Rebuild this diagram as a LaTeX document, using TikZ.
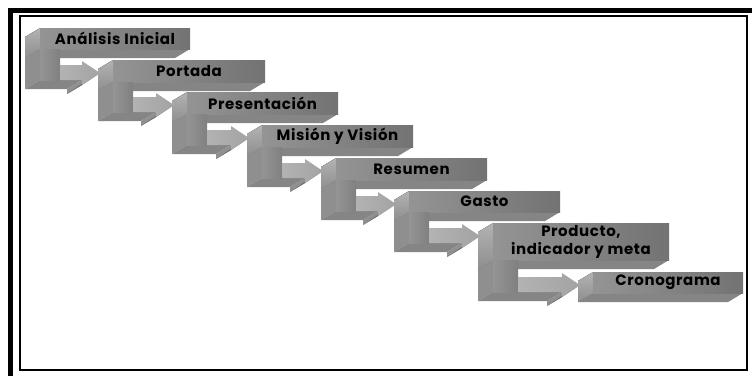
\documentclass[tikz,border=0pt]{standalone}
\usepackage{fontspec}
\setmainfont{Poppins}
\definecolor{gA}{gray}{0.58}
\definecolor{gB}{gray}{0.82}
\definecolor{gC}{gray}{0.45}
\definecolor{gL1}{gray}{0.70}
\definecolor{gL2}{gray}{0.56}
\definecolor{gBot}{gray}{0.52}
\definecolor{gBot2}{gray}{0.40}
\definecolor{gSh1}{gray}{0.58}
\definecolor{gSh2}{gray}{0.80}
\definecolor{gSh3}{gray}{0.50}
\definecolor{gAr1}{gray}{0.70}
\definecolor{gAr2}{gray}{0.33}
\definecolor{gAr3}{gray}{0.64}
\newcommand\dbar[6]{%
  \fill[leftface] (#2,#3) -- (#2,#5) -- ++(-15,9) -- (#2-15,#3+9) -- cycle;
  \fill[botface] (#2,#5) -- (#4,#5) -- ++(-15,9) -- (#2-15,#5+9) -- cycle;
  \shade[frontface] (#2,#3) rectangle (#4,#5);
  \node[lbl] (#1) at ({(#2+#4)/2},{(#3+#5)/2}) {#6};
}
\newcommand\darrow[5]{%
  \fill[arleft] (#1,#2) -- (#1,#5+20) -- ++(-15,9) -- (#1-15,#2+9) -- cycle;
  \fill[arbot] (#1,#5+20) -- (#4-31,#5+20) -- ++(-15,9) -- (#1-15,#5+29) -- cycle;
  \fill[arleft] (#4-31,#5+20) -- (#4-31,#5+25) -- ++(-15,9) -- (#4-46,#5+29) -- cycle;
  \fill[arbot2] (#4-31,#5+25) -- (#4-13,#5+13) -- ++(-15,9) -- (#4-46,#5+34) -- cycle;
  \shade[vshaft] (#1,#2) rectangle (#1+#3,#5+20);
  \shade[hshaft] (#1+#3,#5+5) -- (#4-31,#5+5) -- (#4-31,#5+1) -- (#4-13,#5+13)
     -- (#4-31,#5+25) -- (#4-31,#5+20) -- (#1+#3,#5+20) -- cycle;
}
\begin{document}
\begin{tikzpicture}[x=1pt,y=-1pt,
  leftface/.style={top color=gL1,bottom color=gL2},
  botface/.style={fill=gBot},
  frontface/.style={left color=gA,middle color=gB,right color=gC},
  arleft/.style={fill=gL2},
  arbot/.style={fill=gBot},
  arbot2/.style={fill=gBot2},
  vshaft/.style={left color=gSh1,middle color=gSh2,right color=gSh3},
  hshaft/.style={left color=gAr1,middle color=gAr2,right color=gAr3},
  lbl/.style={font=\bfseries\fontsize{15}{18}\selectfont\addfontfeature{LetterSpace=4},align=center,inner sep=0pt,text=black}]
\useasboundingbox (0,0) rectangle (752,376);
\fill[white] (0,0) rectangle (752,376);
\fill[black] (8,8) rectangle (752,12.5);
\fill[black] (8,8) rectangle (12.5,376);
\draw[line width=1.5pt] (20,16) rectangle (747,370);
\dbar{s1}{40}{28}{190}{49}{Análisis Inicial}
\darrow{40}{49}{20}{113}{60}
\dbar{s2}{113}{60}{265}{82}{Portada}
\darrow{113}{82}{20}{187}{92}
\dbar{s3}{187}{92}{338}{114}{Presentación}
\darrow{187}{114}{20}{262}{125}
\dbar{s4}{262}{125}{413}{147}{Misión y Visión}
\darrow{262}{147}{20}{336}{158}
\dbar{s5}{336}{158}{487}{180}{Resumen}
\darrow{336}{180}{20}{409}{191}
\dbar{s6}{409}{191}{560}{212}{Gasto}
\darrow{409}{212}{20}{493}{223}
\dbar{s7}{493}{223}{669}{260}{Producto,\\indicador y meta}
\darrow{493}{260}{25}{593}{272}
\dbar{s8}{593}{272}{743}{293}{Cronograma}
\end{tikzpicture}
\end{document}
